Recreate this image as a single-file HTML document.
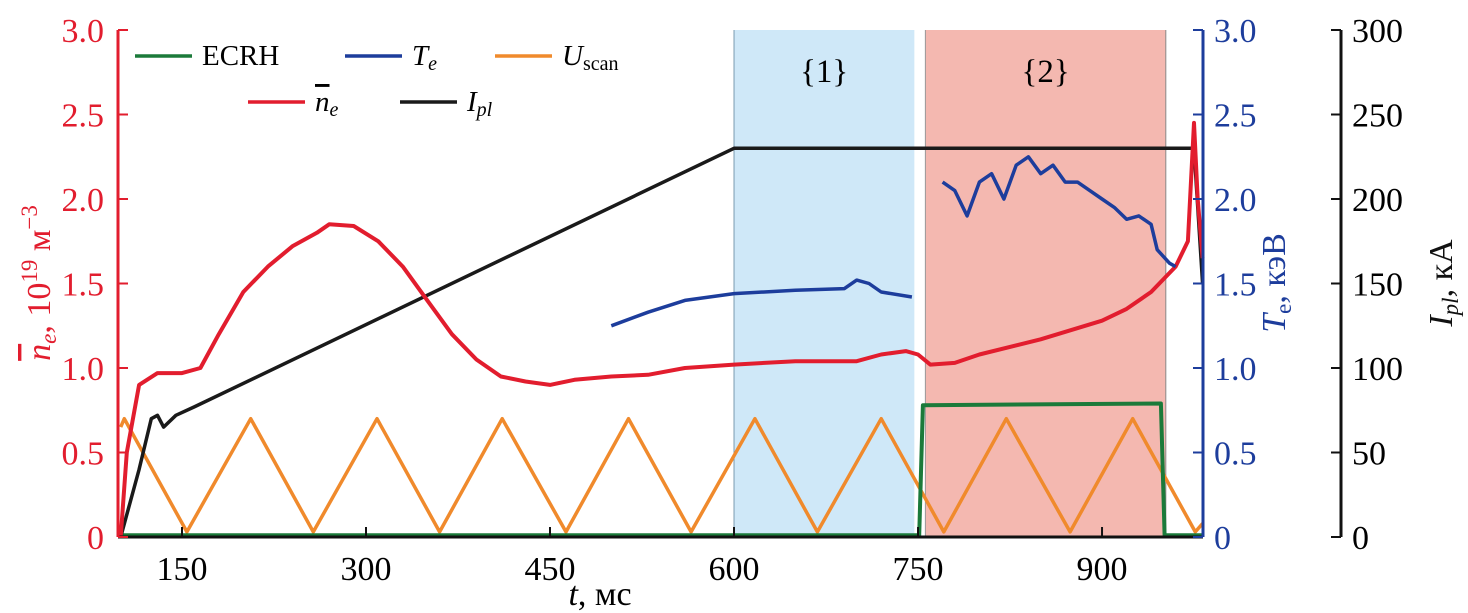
<!DOCTYPE html>
<html><head><meta charset="utf-8"><style>
body{margin:0;background:#fff;}
svg{display:block;font-family:"Liberation Serif",serif;}
</style></head><body>
<svg id="c" width="1468" height="613" style="position:absolute;left:0;top:0">
<rect id="r1" fill="#cfe8f8"/>
<rect id="r2" fill="#f4b8b0"/>
<g id="marks"></g>
<g id="axes"></g>
</svg>
<script>
const neT=[100,105,115,130,150,165,180,200,220,240,260,270,290,310,330,350,370,390,410,430,450,470,500,530,560,600,650,700,720,740,750,760,780,800,850,900,920,940,960,970,975,978,982];
const neV=[0,0.5,0.9,0.97,0.97,1.0,1.2,1.45,1.6,1.72,1.8,1.85,1.84,1.75,1.6,1.4,1.2,1.05,0.95,0.92,0.9,0.93,0.95,0.96,1.0,1.02,1.04,1.04,1.08,1.1,1.08,1.02,1.03,1.08,1.17,1.28,1.35,1.45,1.6,1.75,2.45,2.0,1.65];
const ipT=[100,115,125,130,135,145,160,600,975,982];
const ipV=[0,40,70,72,65,72,77,230,230,150];
const te1T=[500,530,560,600,650,690,700,710,720,745];
const te1V=[1.25,1.33,1.4,1.44,1.46,1.47,1.52,1.5,1.45,1.42];
const te2T=[770,780,790,800,810,820,830,840,850,860,870,880,890,900,910,920,930,940,945,955,960];
const te2V=[2.1,2.05,1.9,2.1,2.15,2.0,2.2,2.25,2.15,2.2,2.1,2.1,2.05,2.0,1.95,1.88,1.9,1.85,1.7,1.62,1.6];
const usT=[100,103,154,206,257,309,360,411,463,514,565,617,668,720,771,822,874,925,976,982];
const usV=[0.65,0.7,0.03,0.7,0.03,0.7,0.03,0.7,0.03,0.7,0.03,0.7,0.03,0.7,0.03,0.7,0.03,0.7,0.03,0.08];
const ecT=[100,751,754,948,951,982];
const ecV=[0.01,0.01,0.78,0.79,0.01,0.01];
const xTicks=[150,300,450,600,750,900];
const yTicks=[0,0.5,1.0,1.5,2.0,2.5,3.0];
const kaTicks=[0,50,100,150,200,250,300];
const regions=[[600,747],[756,952]];

const X=t=>182+(t-150)*1.2267;
const Y=v=>537-v*169;
const YK=v=>Y(v/100);
const NS='http://www.w3.org/2000/svg';
function mk(tag,attrs,parent,text){const e=document.createElementNS(NS,tag);for(const k in attrs)e.setAttribute(k,attrs[k]);if(text!==undefined)e.textContent=text;parent.appendChild(e);return e;}
const marks=document.getElementById('marks'),axes=document.getElementById('axes');
const r1=document.getElementById('r1'),r2=document.getElementById('r2');
[[r1,regions[0]],[r2,regions[1]]].forEach(([r,g])=>{r.setAttribute('x',X(g[0]));r.setAttribute('y',Y(3));r.setAttribute('width',X(g[1])-X(g[0]));r.setAttribute('height',Y(0)-Y(3));});
mk('line',{x1:X(600),x2:X(600),y1:Y(3),y2:Y(0),stroke:'#7a9ab0','stroke-width':1},marks);
mk('line',{x1:X(952),x2:X(952),y1:Y(3),y2:Y(0),stroke:'#888','stroke-width':1},marks);
mk('line',{x1:X(756),x2:X(756),y1:Y(3),y2:Y(0),stroke:'#999','stroke-width':1},marks);
mk('text',{x:(X(600)+X(747))/2,y:82,'font-size':33,'text-anchor':'middle'},marks,'{1}');
mk('text',{x:(X(756)+X(952))/2,y:82,'font-size':33,'text-anchor':'middle'},marks,'{2}');
function line(T,V,yf,color,name,w){const d=T.map((t,i)=>(i?'L':'M')+X(t).toFixed(1)+','+yf(V[i]).toFixed(1)).join('');const p=mk('path',{d:d,fill:'none',stroke:color,'stroke-width':w||3.5,'stroke-linejoin':'round'},marks);

}
line(usT,usV,Y,'#f08a2c','uscan-line');
line(ecT,ecV,Y,'#1b7a3a','ecrh-line',4);
line(ipT,ipV,YK,'#1a1a1a','ipl-line');
line(neT,neV,Y,'#e21d2e','ne-line',4);
line(te1T,te1V,Y,'#1d3d9c','te-line-1');
line(te2T,te2V,Y,'#1d3d9c','te-line-2');
mk('line',{x1:118,x2:1203,y1:537,y2:537,stroke:'#111','stroke-width':3},axes);
mk('line',{x1:118,x2:118,y1:30,y2:537,stroke:'#e21d2e','stroke-width':3},axes);
mk('line',{x1:1203,x2:1203,y1:30,y2:537,stroke:'#1d3d9c','stroke-width':3},axes);
mk('line',{x1:1341,x2:1341,y1:30,y2:537,stroke:'#111','stroke-width':3},axes);
xTicks.forEach(t=>{mk('line',{x1:X(t),x2:X(t),y1:537,y2:527,stroke:'#111','stroke-width':2},axes);
const e=mk('text',{x:X(t),y:580,'font-size':34,'text-anchor':'middle'},axes,String(t));
});
yTicks.forEach(v=>{const lab=v===0?'0':v.toFixed(1);
mk('line',{x1:118,x2:128,y1:Y(v),y2:Y(v),stroke:'#e21d2e','stroke-width':2},axes);
mk('text',{x:104,y:Y(v)+12,'font-size':34,'text-anchor':'end',fill:'#e21d2e'},axes,lab);
mk('line',{x1:1203,x2:1193,y1:Y(v),y2:Y(v),stroke:'#1d3d9c','stroke-width':2},axes);
mk('text',{x:1214,y:Y(v)+12,'font-size':34,fill:'#1d3d9c'},axes,lab);});
kaTicks.forEach(v=>{mk('line',{x1:1341,x2:1331,y1:YK(v),y2:YK(v),stroke:'#111','stroke-width':2},axes);
mk('text',{x:1352,y:YK(v)+12,'font-size':34},axes,String(v));});
</script>
<svg width="1468" height="613" style="position:absolute;left:0;top:0">
<text x="600" y="605" font-size="34" text-anchor="middle" font-family="Liberation Serif,serif"><tspan font-style="italic">t</tspan>, мс</text>
<g font-family="Liberation Serif,serif" font-size="34">
<text transform="translate(50,283) rotate(-90)" text-anchor="middle" fill="#e21d2e"><tspan font-style="italic" text-decoration="overline">n</tspan><tspan font-style="italic" font-size="23" dy="6">e</tspan><tspan dy="-6">, 10</tspan><tspan font-size="23" dy="-13">19</tspan><tspan dy="13"> м</tspan><tspan font-size="23" dy="-13">−3</tspan></text>
<text transform="translate(1285,283) rotate(-90)" text-anchor="middle" fill="#1d3d9c"><tspan font-style="italic">T</tspan><tspan font-size="23" dy="6">e</tspan><tspan dy="-6">, кэВ</tspan></text>
<text transform="translate(1452,283) rotate(-90)" text-anchor="middle" fill="#111"><tspan font-style="italic">I</tspan><tspan font-style="italic" font-size="23" dy="6">pl</tspan><tspan dy="-6">, кА</tspan></text>
</g>
<g font-family="Liberation Serif,serif" font-size="29">
<line x1="135" x2="192" y1="56" y2="56" stroke="#1b7a3a" stroke-width="3.5"/><text x="202" y="65">ECRH</text>
<line x1="345" x2="402" y1="56" y2="56" stroke="#1d3d9c" stroke-width="3.5"/><text x="412" y="65" font-style="italic">T<tspan font-size="20" dy="5">e</tspan></text>
<line x1="495" x2="552" y1="56" y2="56" stroke="#f08a2c" stroke-width="3.5"/><text x="562" y="65" font-style="italic">U<tspan font-style="normal" font-size="20" dy="5">scan</tspan></text>
<line x1="248" x2="305" y1="102" y2="102" stroke="#e21d2e" stroke-width="3.5"/><text x="315" y="111" font-style="italic"><tspan text-decoration="overline">n</tspan><tspan font-size="20" dy="5">e</tspan></text>
<line x1="400" x2="457" y1="102" y2="102" stroke="#1a1a1a" stroke-width="3.5"/><text x="467" y="111" font-style="italic">I<tspan font-size="20" dy="5">pl</tspan></text>
</g>
</svg>
</body></html>
